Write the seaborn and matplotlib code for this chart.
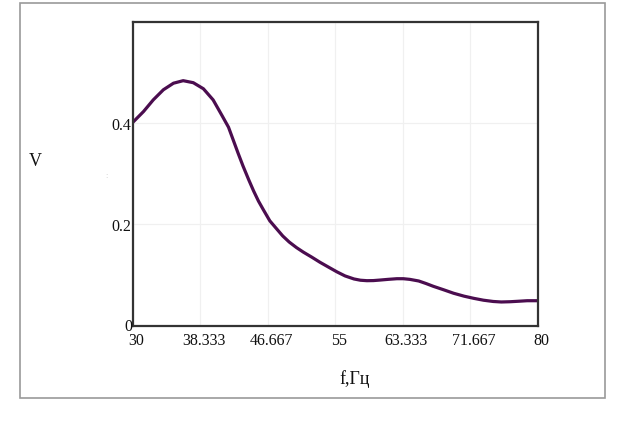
import matplotlib
matplotlib.use("Agg")
import matplotlib.pyplot as plt
import matplotlib.patches as mpatches
import seaborn as sns
import pandas as pd

freq = [30.0, 31.3, 32.5, 33.75, 35.0, 36.2, 37.45, 38.7, 39.9, 41.0, 41.8, 42.4, 43.0,
        43.6, 44.3, 44.9, 45.5, 46.1, 46.9, 47.75, 48.5, 49.3, 50.2, 51.05, 52.1, 53.1,
        54.2, 55.2, 56.2, 57.3, 58.1, 58.9, 59.7, 60.5, 61.5, 62.6, 63.4, 64.2, 65.3,
        66.2, 67.1, 68.4, 69.6, 70.9, 72.1, 73.3, 74.5, 75.5, 76.6, 77.7, 78.7, 80.0]
volt = [0.402, 0.423, 0.446, 0.466, 0.479, 0.484, 0.480, 0.468, 0.446, 0.415, 0.392,
        0.366, 0.340, 0.315, 0.288, 0.266, 0.246, 0.229, 0.207, 0.191, 0.177, 0.165,
        0.154, 0.145, 0.135, 0.125, 0.115, 0.106, 0.098, 0.092, 0.0895, 0.0886, 0.0888,
        0.0898, 0.0912, 0.0925, 0.0925, 0.0912, 0.088, 0.083, 0.0775, 0.0705, 0.0638,
        0.058, 0.0537, 0.050, 0.0475, 0.0465, 0.047, 0.048, 0.049, 0.049]

x_ticks = [30, 38.333, 46.667, 55, 63.333, 71.667, 80]
x_tick_labels = ["30", "38.333", "46.667", "55", "63.333", "71.667", "80"]
y_ticks = [0, 0.2, 0.4]
y_tick_labels = ["0", "0.2", "0.4"]

sns.set_theme(style="white")
plt.rcParams["font.family"] = ["Liberation Serif", "DejaVu Serif"]

W, H = 621, 432
fig = plt.figure(figsize=(W / 100, H / 100), dpi=100)

# outer frame
fig.patches.append(mpatches.Rectangle((20 / W, 1 - 398 / H), (605 - 20) / W, (398 - 3) / H,
                                      transform=fig.transFigure, fill=False,
                                      edgecolor="#9a9a9a", linewidth=1.2))

left, right, top, bottom = 133, 537.7, 22, 325.5
ax = fig.add_axes([left / W, 1 - bottom / H, (right - left) / W, (bottom - top) / H])

df = pd.DataFrame({"f": freq, "V": volt})
sns.lineplot(data=df, x="f", y="V", ax=ax, color="#4b0d4f", linewidth=2.3, sort=False,
             solid_joinstyle="round", solid_capstyle="round")

ax.set_xlim(30, 80)
ax.set_ylim(0, 0.6)
ax.set_xticks(x_ticks)
ax.set_xticklabels([])
ax.set_yticks(y_ticks + [0.6])
ax.set_yticklabels([])
ax.grid(True, color="#f0f0f0", linewidth=0.9)
ax.tick_params(length=0)
ax.set_xlabel("")
ax.set_ylabel("")
for s in ax.spines.values():
    s.set_color("#333333")
    s.set_linewidth(1.6)

fs = 11.5
# x tick labels (slightly offset right as in reference)
for v, lab in zip(x_ticks, x_tick_labels):
    px = left + (v - 30) / 50 * (right - left) + 3.5
    fig.text(px / W, 1 - 341 / H, lab, ha="center", va="center", fontsize=fs, color="#111111")
# y tick labels
for v, lab in zip(y_ticks, y_tick_labels):
    py = bottom - v / 0.6 * (bottom - top)
    if v == 0:
        fig.text(132 / W, 1 - 327 / H, lab, ha="right", va="center", fontsize=fs, color="#111111")
    else:
        fig.text(131 / W, 1 - (py + 3) / H, lab, ha="right", va="center", fontsize=fs, color="#111111")

fig.text(355 / W, 1 - 379 / H, "f,Гц", ha="center", va="center", fontsize=13, color="#111111")
fig.text(35 / W, 1 - 162 / H, "V", ha="center", va="center", fontsize=13, color="#111111")
fig.text(107 / W, 1 - 176 / H, ":", ha="center", va="center", fontsize=6, color="#cccccc")

fig.savefig("out.png", dpi=100)
